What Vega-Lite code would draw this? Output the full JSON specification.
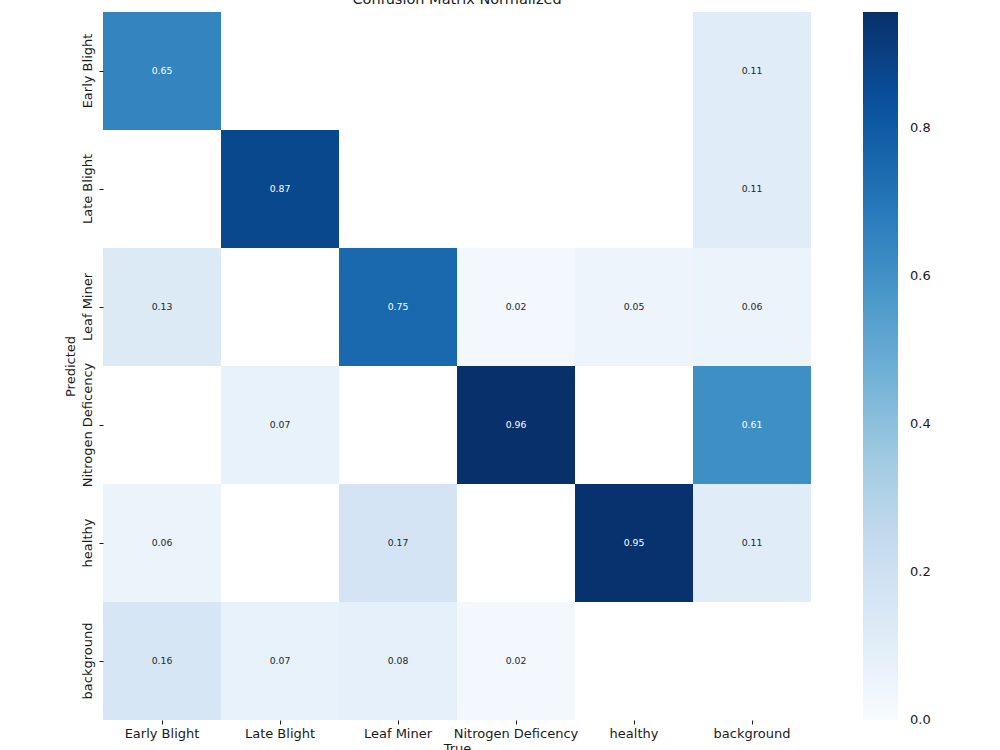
{
  "$schema": "https://vega.github.io/schema/vega-lite/v6.json",
  "autosize": {"type": "none"},
  "width": 708,
  "height": 708,
  "padding": {"left": 103, "top": 12, "right": 189, "bottom": 30},
  "background": "white",
  "title": {"text": "Confusion Matrix Normalized", "font": "DejaVu Sans", "fontSize": 14.5, "fontWeight": "normal", "color": "#1a1a1a", "anchor": "middle", "baseline": "alphabetic", "offset": 0, "dy": 6},
  "config": {
    "font": "DejaVu Sans",
    "view": {"stroke": null},
    "axis": {"labelFont": "DejaVu Sans", "titleFont": "DejaVu Sans", "labelFontSize": 13, "titleFontSize": 13, "titleFontWeight": "normal", "labelColor": "#1a1a1a", "titleColor": "#1a1a1a", "domain": false, "grid": false, "tickColor": "#1a1a1a", "tickSize": 4, "tickWidth": 1}
  },
  "data": {"values": [
    {"pred": "Early Blight", "true": "Early Blight", "value": 0.65},
    {"pred": "Early Blight", "true": "background", "value": 0.11},
    {"pred": "Late Blight", "true": "Late Blight", "value": 0.87},
    {"pred": "Late Blight", "true": "background", "value": 0.11},
    {"pred": "Leaf Miner", "true": "Early Blight", "value": 0.13},
    {"pred": "Leaf Miner", "true": "Leaf Miner", "value": 0.75},
    {"pred": "Leaf Miner", "true": "Nitrogen Deficency", "value": 0.02},
    {"pred": "Leaf Miner", "true": "healthy", "value": 0.05},
    {"pred": "Leaf Miner", "true": "background", "value": 0.06},
    {"pred": "Nitrogen Deficency", "true": "Late Blight", "value": 0.07},
    {"pred": "Nitrogen Deficency", "true": "Nitrogen Deficency", "value": 0.96},
    {"pred": "Nitrogen Deficency", "true": "background", "value": 0.61},
    {"pred": "healthy", "true": "Early Blight", "value": 0.06},
    {"pred": "healthy", "true": "Leaf Miner", "value": 0.17},
    {"pred": "healthy", "true": "healthy", "value": 0.95},
    {"pred": "healthy", "true": "background", "value": 0.11},
    {"pred": "background", "true": "Early Blight", "value": 0.16},
    {"pred": "background", "true": "Late Blight", "value": 0.07},
    {"pred": "background", "true": "Leaf Miner", "value": 0.08},
    {"pred": "background", "true": "Nitrogen Deficency", "value": 0.02}
  ]},
  "encoding": {
    "x": {"field": "true", "type": "nominal", "title": "True",
      "scale": {"domain": ["Early Blight", "Late Blight", "Leaf Miner", "Nitrogen Deficency", "healthy", "background"], "paddingInner": 0, "paddingOuter": 0},
      "axis": {"labelAngle": 0, "labelPadding": 3, "titlePadding": 2}},
    "y": {"field": "pred", "type": "nominal", "title": "Predicted",
      "scale": {"domain": ["Early Blight", "Late Blight", "Leaf Miner", "Nitrogen Deficency", "healthy", "background"], "paddingInner": 0, "paddingOuter": 0},
      "axis": {"labelAngle": 270, "labelAlign": "center", "labelBaseline": "bottom", "labelPadding": 5, "titlePadding": 4}}
  },
  "layer": [
    {
      "mark": {"type": "rect"},
      "encoding": {
        "color": {"field": "value", "type": "quantitative",
          "scale": {"domain": [0, 0.1196, 0.2393, 0.3589, 0.4785, 0.5981, 0.7178, 0.8374, 0.957],
                    "range": ["#f7fbff", "#deebf7", "#c6dbef", "#9ecae1", "#6baed6", "#4292c6", "#2171b5", "#08519c", "#08306b"],
                    "clamp": true},
          "legend": {"title": null, "orient": "right", "offset": 52, "direction": "vertical", "gradientLength": 708, "gradientThickness": 35, "gradientStrokeWidth": 0, "values": [0, 0.2, 0.4, 0.6, 0.8], "format": ".1f", "labelFontSize": 13, "labelFont": "DejaVu Sans", "labelColor": "#1a1a1a", "labelOffset": 12, "labelOverlap": false, "labelBaseline": "middle",
            "encode": {"labels": {"update": {"baseline": {"value": "middle"}}}}}
        }
      }
    },
    {
      "mark": {"type": "text", "fontSize": 9.3, "font": "DejaVu Sans"},
      "encoding": {
        "text": {"field": "value", "type": "quantitative", "format": ".2f"},
        "color": {"condition": {"test": "datum.value > 0.45", "value": "white"}, "value": "#262626"}
      }
    }
  ]
}
